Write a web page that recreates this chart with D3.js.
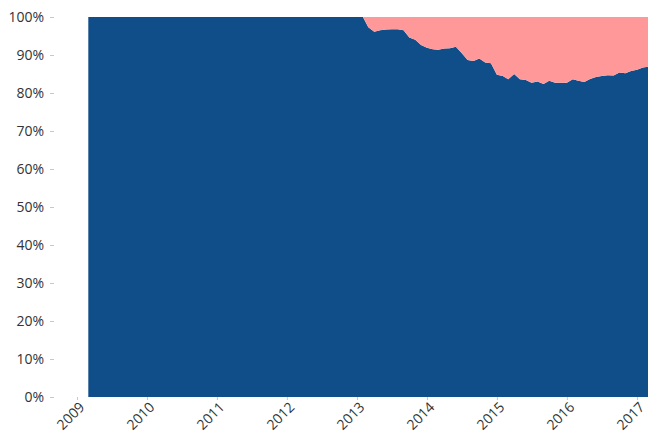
<!DOCTYPE html>
<html>
<head>
<meta charset="utf-8">
<script src="https://cdn.jsdelivr.net/npm/d3@7"></script>
<style>
  body { margin: 0; background: #fff; }
  svg { display: block; }
  .tick line { stroke: #c8c8c8; }
  .tick text { fill: #333; font-size: 14px; font-family: "Open Sans", "Noto Sans", sans-serif; }
</style>
</head>
<body>
<div id="chart"></div>
<script>
// monthly shares (%), first month is March 2009
var firstMonth = new Date(2009, 2, 1);
var seriesKeys = ["blue", "pink"];

var blueShare = [
  100, 100, 100, 100, 100, 100, 100, 100, 100, 100,            // 2009 Mar-Dec
  100, 100, 100, 100, 100, 100, 100, 100, 100, 100, 100, 100,  // 2010
  100, 100, 100, 100, 100, 100, 100, 100, 100, 100, 100, 100,  // 2011
  100, 100, 100, 100, 100, 100, 100, 100, 100, 100, 100, 100,  // 2012
  100, 100, 97.3, 96.1, 96.5, 96.7, 96.8, 96.8, 96.5, 94.6, 94.0, 92.6,  // 2013
  91.9, 91.5, 91.4, 91.7, 91.8, 92.2, 90.5, 88.7, 88.4, 89.1, 88.0, 87.8, // 2014
  84.8, 84.5, 83.6, 85.0, 83.6, 83.4, 82.7, 83.0, 82.4, 83.2, 82.7, 82.7, // 2015
  82.7, 83.6, 83.2, 82.9, 83.7, 84.2, 84.5, 84.7, 84.6, 85.4, 85.2, 85.8, // 2016
  86.1, 86.7, 86.9                                                        // 2017
];
var pinkShare = [
  0, 0, 0, 0, 0, 0, 0, 0, 0, 0,
  0, 0, 0, 0, 0, 0, 0, 0, 0, 0, 0, 0,
  0, 0, 0, 0, 0, 0, 0, 0, 0, 0, 0, 0,
  0, 0, 0, 0, 0, 0, 0, 0, 0, 0, 0, 0,
  0, 0, 2.7, 3.9, 3.5, 3.3, 3.2, 3.2, 3.5, 5.4, 6.0, 7.4,
  8.1, 8.5, 8.6, 8.3, 8.2, 7.8, 9.5, 11.3, 11.6, 10.9, 12.0, 12.2,
  15.2, 15.5, 16.4, 15.0, 16.4, 16.6, 17.3, 17.0, 17.6, 16.8, 17.3, 17.3,
  17.3, 16.4, 16.8, 17.1, 16.3, 15.8, 15.5, 15.3, 15.4, 14.6, 14.8, 14.2,
  13.9, 13.3, 13.1
];
var yTicks = [0, 10, 20, 30, 40, 50, 60, 70, 80, 90, 100];
var colors = { blue: "#104e8a", pink: "#ff9999" };

var width = 648, height = 432;
var plotTop = 17, plotBottom = 397;

var data = blueShare.map(function (v, i) {
  return { date: d3.timeMonth.offset(firstMonth, i), blue: v, pink: pinkShare[i] };
});

var svg = d3.select("#chart")
  .append("svg")
  .attr("width", width)
  .attr("height", height);

var x = d3.scaleTime()
  .domain([new Date(2009, 0, 1), new Date(2017, 0, 1)])
  .range([77, 637]);
var y = d3.scaleLinear().domain([0, 100]).range([plotBottom, plotTop]);

var stacked = d3.stack().keys(seriesKeys)(data);

var area = d3.area()
  .x(function (d) { return x(d.data.date); })
  .y0(function (d) { return y(d[0]); })
  .y1(function (d) { return y(d[1]); });

svg.append("g")
  .selectAll("path")
  .data(stacked)
  .enter()
  .append("path")
  .attr("d", area)
  .style("fill", function (d) { return colors[d.key]; });

// Y axis
var yAxis = svg.append("g")
  .attr("transform", "translate(54,0)")
  .call(d3.axisLeft(y).tickValues(yTicks).tickSize(4).tickPadding(6)
    .tickFormat(function (d) { return d + "%"; }));
yAxis.select(".domain").remove();

// X axis
var xAxis = svg.append("g")
  .attr("transform", "translate(0," + plotBottom + ")")
  .call(d3.axisBottom(x).ticks(d3.timeYear.every(1)).tickSize(3)
    .tickFormat(d3.timeFormat("%Y")));
xAxis.select(".domain").remove();
xAxis.selectAll("text")
  .style("text-anchor", "end")
  .attr("x", 0)
  .attr("y", 0)
  .attr("dy", 0)
  .attr("transform", "translate(8,11) rotate(-45)");
</script>
</body>
</html>
